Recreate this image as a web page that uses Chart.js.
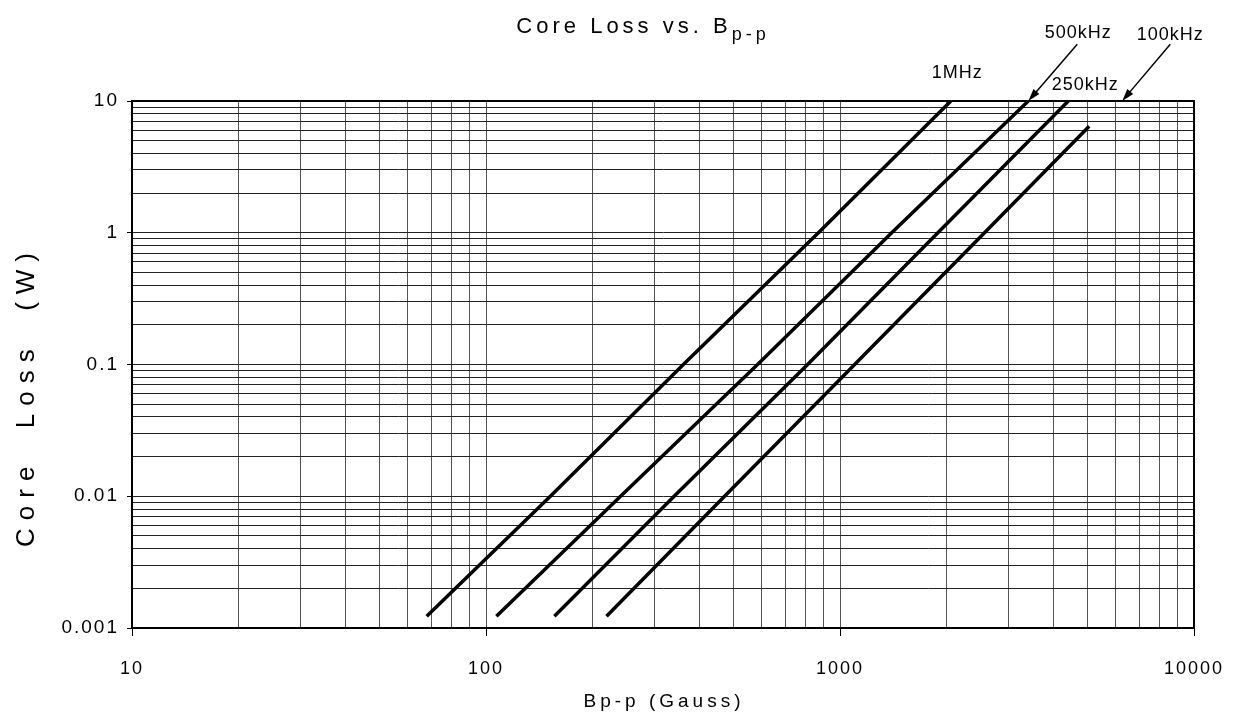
<!DOCTYPE html>
<html>
<head>
<meta charset="utf-8">
<title>Core Loss vs. Bp-p</title>
<script src="https://cdn.jsdelivr.net/npm/chart.js@4.4.1/dist/chart.umd.min.js"></script>
<style>
    html, body { margin: 0; padding: 0; background: #fff; }
    #wrap { width: 1244px; height: 723px; }
</style>
</head>
<body>
<div id="wrap"><canvas id="loss-chart"></canvas></div>
<script>
// Values (Bp-p in Gauss, core loss in W)
const freqLabels = ["1MHz", "500kHz", "250kHz", "100kHz"];

const flux1MHz = [68, 152, 361, 869, 2057];
const loss1MHz = [0.00123, 0.01, 0.1, 1, 10];

const flux500kHz = [107, 240, 585, 1400, 3404];
const loss500kHz = [0.00123, 0.01, 0.1, 1, 10];

const flux250kHz = [156, 340, 810, 1890, 4416];
const loss250kHz = [0.00123, 0.01, 0.1, 1, 10];

const flux100kHz = [219, 472, 1100, 2560, 5058];
const loss100kHz = [0.00123, 0.01, 0.1, 1, 6.43];

// Labelled ticks (decades); the grid also gets the 2..9 steps in between
const xTickLabels = [10, 100, 1000, 10000];
const yTickLabels = [0.001, 0.01, 0.1, 1, 10];
const minorSteps = [1, 2, 3, 4, 5, 6, 7, 8, 9];

const FONT = "'Liberation Sans', Arial, sans-serif";

function gridTicks(decades) {
    const ticks = [];
    decades.forEach((d, i) => {
        if (i === decades.length - 1) {
            ticks.push({ value: d });
            return;
        }
        minorSteps.forEach((k) => ticks.push({ value: d * k }));
    });
    return ticks;
}

function toPoints(xs, ys) {
    return xs.map((x, i) => ({ x: x, y: ys[i] }));
}

const seriesX = [flux1MHz, flux500kHz, flux250kHz, flux100kHz];
const seriesY = [loss1MHz, loss500kHz, loss250kHz, loss100kHz];

const datasets = freqLabels.map((label, i) => ({
    label: label,
    data: toPoints(seriesX[i], seriesY[i]),
    showLine: true,
    borderColor: "#000",
    borderWidth: 3.5,
    pointRadius: 0,
    tension: 0,
    fill: false,
}));

// the reference text is spaced out, apply it to tick labels too
const spacing = {
    id: "spacing",
    beforeDraw(chart) {
        chart.ctx.letterSpacing = "2px";
    },
};

// draws the title, axis titles, frame and the curve labels with arrows
const decorations = {
    id: "decorations",
    afterDraw(chart) {
        const { ctx, chartArea: a, scales } = chart;
        const xs = scales.x;
        const ys = scales.y;
        ctx.save();

        // frame (top and right sides too)
        ctx.strokeStyle = "#000";
        ctx.lineWidth = 2;
        ctx.strokeRect(a.left, a.top, a.right - a.left, a.bottom - a.top);

        ctx.fillStyle = "#000";
        ctx.textBaseline = "alphabetic";

        // chart title with subscript
        ctx.letterSpacing = "4px";
        ctx.font = "22px " + FONT;
        const mainTxt = "Core Loss vs. B";
        const w1 = ctx.measureText(mainTxt).width;
        ctx.font = "18px " + FONT;
        const w2 = ctx.measureText("p-p").width;
        let tx = 643 - (w1 + w2) / 2;
        ctx.textAlign = "left";
        ctx.font = "22px " + FONT;
        ctx.fillText(mainTxt, tx, 33);
        ctx.font = "18px " + FONT;
        ctx.fillText("p-p", tx + w1, 40);

        // x axis title
        ctx.letterSpacing = "4px";
        ctx.font = "19px " + FONT;
        ctx.textAlign = "center";
        ctx.fillText("Bp-p (Gauss)", 664, 707);

        // y axis title
        ctx.save();
        ctx.translate(34, 396);
        ctx.rotate(-Math.PI / 2);
        ctx.letterSpacing = "8px";
        ctx.font = "26px " + FONT;
        ctx.fillText("Core  Loss  (W)", 0, 0);
        ctx.restore();

        // curve labels (positions in data units)
        ctx.letterSpacing = "1px";
        ctx.font = "18px " + FONT;
        ctx.textAlign = "center";
        const labelPos = [
            [2143, 16.8], [4710, 33.9], [4930, 13.6], [8570, 32.7],
        ];
        freqLabels.forEach((txt, i) => {
            ctx.fillText(txt, xs.getPixelForValue(labelPos[i][0]), ys.getPixelForValue(labelPos[i][1]) + 7);
        });

        // arrows for 500kHz and 100kHz
        const arrows = [
            [4680, 27, flux500kHz[flux500kHz.length - 1], 10],
            [8570, 27, 6270, 10],
        ];
        arrows.forEach(([x0, y0, x1, y1]) => {
            const px0 = xs.getPixelForValue(x0), py0 = ys.getPixelForValue(y0);
            const px1 = xs.getPixelForValue(x1), py1 = ys.getPixelForValue(y1);
            const ang = Math.atan2(py1 - py0, px1 - px0);
            ctx.lineWidth = 1.5;
            ctx.beginPath();
            ctx.moveTo(px0, py0);
            ctx.lineTo(px1 - 8 * Math.cos(ang), py1 - 8 * Math.sin(ang));
            ctx.stroke();
            ctx.beginPath();
            ctx.moveTo(px1, py1);
            ctx.lineTo(px1 - 13 * Math.cos(ang - 0.3), py1 - 13 * Math.sin(ang - 0.3));
            ctx.lineTo(px1 - 13 * Math.cos(ang + 0.3), py1 - 13 * Math.sin(ang + 0.3));
            ctx.closePath();
            ctx.fill();
        });

        ctx.restore();
    },
};

document.addEventListener("DOMContentLoaded", function () {
    const canvas = document.getElementById("loss-chart");
    const ctx = canvas.getContext("2d");

    new Chart(ctx, {
        type: "scatter",
        data: { datasets: datasets },
        plugins: [spacing, decorations],
        options: {
            responsive: true,
            maintainAspectRatio: false,
            animation: false,
            layout: { padding: { top: 101, right: 50, left: 0, bottom: 0 } },
            plugins: {
                legend: { display: false },
                tooltip: { enabled: false },
                title: { display: false },
            },
            scales: {
                x: {
                    type: "logarithmic",
                    min: 10,
                    max: 10000,
                    afterBuildTicks: (scale) => { scale.ticks = gridTicks(xTickLabels); },
                    afterFit: (scale) => { scale.height = 95; },
                    ticks: {
                        autoSkip: false,
                        maxRotation: 0,
                        padding: 22,
                        color: "#000",
                        font: { family: FONT, size: 18 },
                        callback: (value) => xTickLabels.includes(value) ? String(value) : "",
                    },
                    grid: {
                        color: "#555",
                        lineWidth: 1,
                        tickLength: 8,
                        tickColor: (c) => (c.tick && xTickLabels.includes(c.tick.value)) ? "#000" : "rgba(0,0,0,0)",
                    },
                    border: { color: "#000", width: 2 },
                },
                y: {
                    type: "logarithmic",
                    min: 0.001,
                    max: 10,
                    afterBuildTicks: (scale) => { scale.ticks = gridTicks(yTickLabels); },
                    afterFit: (scale) => { scale.width = 132; },
                    ticks: {
                        autoSkip: false,
                        padding: 8,
                        color: "#000",
                        font: { family: FONT, size: 19 },
                        callback: (value) => yTickLabels.includes(value) ? String(value) : "",
                    },
                    grid: {
                        color: "#222",
                        lineWidth: 1,
                        tickLength: 5,
                        tickColor: (c) => (c.tick && yTickLabels.includes(c.tick.value)) ? "#000" : "rgba(0,0,0,0)",
                    },
                    border: { color: "#000", width: 2 },
                },
            },
        },
    });
});
</script>
</body>
</html>
